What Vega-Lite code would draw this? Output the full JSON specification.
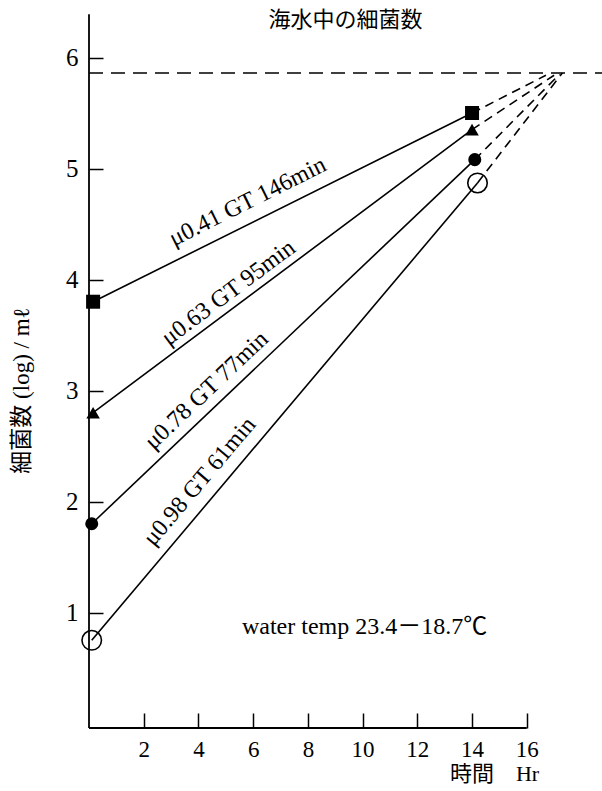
{
  "$schema": "https://vega.github.io/schema/vega-lite/v6.json",
  "width": 513,
  "height": 726,
  "autosize": {"type": "none"},
  "padding": {"left": 89, "top": 2, "right": 0, "bottom": 63},
  "background": "white",
  "config": {"view": {"stroke": null}, "font": "Liberation Serif"},
  "title": {"text": "海水中の細菌数", "font": "Noto Sans CJK JP", "fontSize": 22, "fontWeight": "normal", "anchor": "middle", "offset": -30, "color": "black"},
  "resolve": {"axis": {"x": "independent", "y": "independent"}},
  "datasets": {
    "axes": [
      {"x": 0, "y": -0.04, "x2": 16, "y2": -0.04},
      {"x": 0, "y": -0.04, "x2": 0, "y2": 6.39}
    ],
    "growth": [
      {"series": "A", "x0": 0.15, "y0": 3.8, "x1": 14.0, "y1": 5.5, "xe": 16.7, "ye": 5.84},
      {"series": "B", "x0": 0.15, "y0": 2.8, "x1": 14.0, "y1": 5.35, "xe": 17.0, "ye": 5.84},
      {"series": "C", "x0": 0.1, "y0": 1.8, "x1": 14.1, "y1": 5.08, "xe": 17.2, "ye": 5.85},
      {"series": "D", "x0": 0.1, "y0": 0.75, "x1": 14.2, "y1": 4.87, "xe": 17.3, "ye": 5.86}
    ],
    "points": [
      {"series": "A", "t": 0.15, "v": 3.8},
      {"series": "A", "t": 14.0, "v": 5.5},
      {"series": "B", "t": 0.15, "v": 2.8},
      {"series": "B", "t": 14.0, "v": 5.35},
      {"series": "C", "t": 0.1, "v": 1.8},
      {"series": "C", "t": 14.1, "v": 5.08},
      {"series": "D", "t": 0.1, "v": 0.75},
      {"series": "D", "t": 14.2, "v": 4.87}
    ],
    "plateau": [{"x": 0, "x2": 18.75, "y": 5.86}],
    "labels": [
      {"id": "A", "text": "μ0.41 GT 146min", "x": 5.8, "y": 4.7},
      {"id": "B", "text": "μ0.63 GT 95min", "x": 5.1, "y": 3.88},
      {"id": "C", "text": "μ0.78 GT 77min", "x": 4.3, "y": 3.0},
      {"id": "D", "text": "μ0.98 GT 61min", "x": 4.05, "y": 2.18}
    ],
    "note": [{"text": "water temp 23.4－18.7℃", "x": 5.59, "y": 0.87}]
  },
  "layer": [
    {
      "data": {"name": "axes"},
      "mark": {"type": "rule", "color": "black", "strokeWidth": 1.8},
      "encoding": {
        "x": {
          "field": "x", "type": "quantitative",
          "scale": {"domain": [0, 18.75], "nice": false, "zero": false},
          "axis": {
            "values": [2, 4, 6, 8, 10, 12, 14, 16], "domain": false, "grid": false, "format": "d",
            "tickSize": -15, "tickWidth": 1.5, "tickColor": "black",
            "labelFontSize": 23, "labelPadding": 25, "labelColor": "black", "labelFont": "Liberation Serif",
            "title": "時間　Hr", "titleFont": "Liberation Serif, Noto Sans CJK JP", "titleFontSize": 22,
            "titleFontWeight": "normal", "titleColor": "black",
            "titleX": 405, "titleY": 45, "titleAlign": "center", "titleBaseline": "middle"
          }
        },
        "y": {
          "field": "y", "type": "quantitative",
          "scale": {"domain": [-0.04, 6.5], "nice": false, "zero": false},
          "axis": {
            "values": [1, 2, 3, 4, 5, 6], "domain": false, "grid": false, "format": "d",
            "tickSize": -14, "tickWidth": 1.5, "tickColor": "black",
            "labelFontSize": 25, "labelPadding": 25, "labelColor": "black", "labelFont": "Liberation Serif",
            "title": "細菌数 (log) / mℓ", "titleFont": "Liberation Serif, Noto Sans CJK JP", "titleFontSize": 23,
            "titleFontWeight": "normal", "titleColor": "black", "titleAngle": 270,
            "titleX": -68, "titleY": 388, "titleAlign": "center", "titleBaseline": "middle"
          }
        },
        "x2": {"field": "x2"},
        "y2": {"field": "y2"}
      }
    },
    {
      "data": {"name": "growth"},
      "mark": {"type": "rule", "color": "black", "strokeWidth": 1.6},
      "encoding": {
        "x": {"field": "x0", "type": "quantitative", "axis": null},
        "y": {"field": "y0", "type": "quantitative", "axis": null},
        "x2": {"field": "x1"},
        "y2": {"field": "y1"}
      }
    },
    {
      "data": {"name": "growth"},
      "mark": {"type": "rule", "color": "black", "strokeWidth": 1.6, "strokeDash": [9, 6]},
      "encoding": {
        "x": {"field": "x1", "type": "quantitative", "axis": null},
        "y": {"field": "y1", "type": "quantitative", "axis": null},
        "x2": {"field": "xe"},
        "y2": {"field": "ye"}
      }
    },
    {
      "data": {"name": "plateau"},
      "mark": {"type": "rule", "color": "black", "strokeWidth": 1.6, "strokeDash": [14, 8]},
      "encoding": {
        "x": {"field": "x", "type": "quantitative", "axis": null},
        "x2": {"field": "x2"},
        "y": {"field": "y", "type": "quantitative", "axis": null}
      }
    },
    {
      "data": {"name": "points"},
      "transform": [{"filter": "datum.series !== 'D'"}],
      "mark": {"type": "point", "filled": true, "color": "black", "opacity": 1},
      "encoding": {
        "x": {"field": "t", "type": "quantitative", "axis": null},
        "y": {"field": "v", "type": "quantitative", "axis": null},
        "shape": {"field": "series", "type": "nominal", "scale": {"domain": ["A", "B", "C"], "range": ["square", "triangle-up", "circle"]}, "legend": null},
        "size": {"field": "series", "type": "nominal", "scale": {"domain": ["A", "B", "C"], "range": [196, 170, 225]}, "legend": null}
      }
    },
    {
      "data": {"name": "points"},
      "transform": [{"filter": "datum.series === 'D'"}],
      "mark": {"type": "point", "shape": "circle", "filled": false, "color": "black", "opacity": 1, "size": 380, "strokeWidth": 1.6},
      "encoding": {
        "x": {"field": "t", "type": "quantitative", "axis": null},
        "y": {"field": "v", "type": "quantitative", "axis": null}
      }
    },
    {
      "data": {"name": "labels"},
      "transform": [{"filter": "datum.id === 'A'"}],
      "mark": {"type": "text", "angle": 333.5, "fontSize": 24, "font": "Liberation Serif", "color": "black", "align": "center", "baseline": "middle"},
      "encoding": {
        "x": {"field": "x", "type": "quantitative", "axis": null},
        "y": {"field": "y", "type": "quantitative", "axis": null},
        "text": {"field": "text"}
      }
    },
    {
      "data": {"name": "labels"},
      "transform": [{"filter": "datum.id === 'B'"}],
      "mark": {"type": "text", "angle": 323.3, "fontSize": 24, "font": "Liberation Serif", "color": "black", "align": "center", "baseline": "middle"},
      "encoding": {
        "x": {"field": "x", "type": "quantitative", "axis": null},
        "y": {"field": "y", "type": "quantitative", "axis": null},
        "text": {"field": "text"}
      }
    },
    {
      "data": {"name": "labels"},
      "transform": [{"filter": "datum.id === 'C'"}],
      "mark": {"type": "text", "angle": 316.5, "fontSize": 24, "font": "Liberation Serif", "color": "black", "align": "center", "baseline": "middle"},
      "encoding": {
        "x": {"field": "x", "type": "quantitative", "axis": null},
        "y": {"field": "y", "type": "quantitative", "axis": null},
        "text": {"field": "text"}
      }
    },
    {
      "data": {"name": "labels"},
      "transform": [{"filter": "datum.id === 'D'"}],
      "mark": {"type": "text", "angle": 310.2, "fontSize": 24, "font": "Liberation Serif", "color": "black", "align": "center", "baseline": "middle"},
      "encoding": {
        "x": {"field": "x", "type": "quantitative", "axis": null},
        "y": {"field": "y", "type": "quantitative", "axis": null},
        "text": {"field": "text"}
      }
    },
    {
      "data": {"name": "note"},
      "mark": {"type": "text", "fontSize": 24, "font": "Liberation Serif, Noto Sans CJK JP", "color": "black", "align": "left", "baseline": "middle"},
      "encoding": {
        "x": {"field": "x", "type": "quantitative", "axis": null},
        "y": {"field": "y", "type": "quantitative", "axis": null},
        "text": {"field": "text"}
      }
    }
  ]
}
